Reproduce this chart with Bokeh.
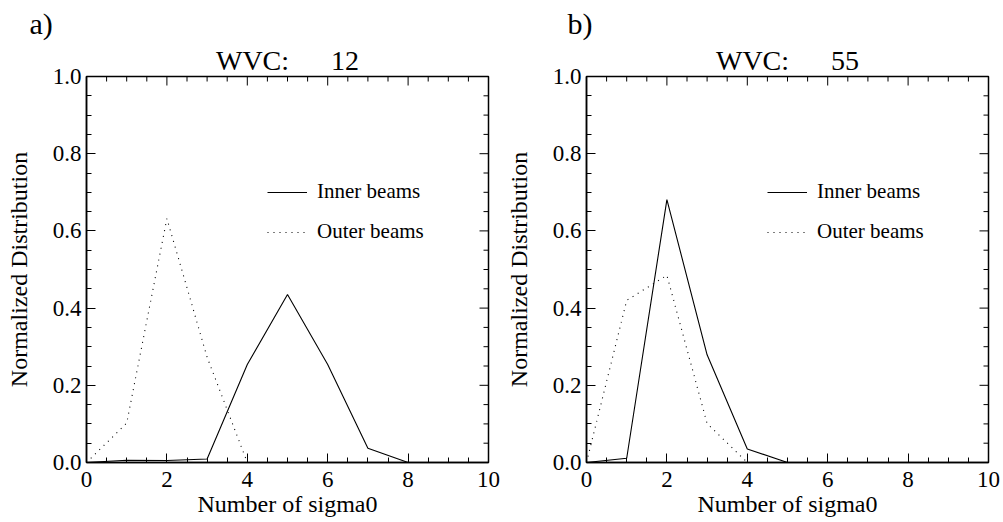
import math
from bokeh.plotting import figure
from bokeh.models import (FixedTicker, Range1d, Legend, LegendItem,
                          PrintfTickFormatter, Title)
from bokeh.layouts import row
from bokeh.embed import file_html
from bokeh.resources import INLINE

# ---- data ----
sigma0_count = [0, 1, 2, 3, 4, 5, 6, 7, 8, 9, 10]

inner_a = [0.0, 0.006, 0.005, 0.009, 0.254, 0.435, 0.254, 0.037, 0.0, 0.0, 0.0]
outer_a = [0.0, 0.102, 0.632, 0.273, 0.0, 0.0, 0.0, 0.0, 0.0, 0.0, 0.0]

inner_b = [0.0, 0.011, 0.681, 0.279, 0.035, 0.0, 0.0, 0.0, 0.0, 0.0, 0.0]
outer_b = [0.0, 0.420, 0.485, 0.101, 0.0, 0.0, 0.0, 0.0, 0.0, 0.0, 0.0]

panel_letters = ["a)", "b)"]
wvc_values = [12, 55]
series_names = ["Inner beams", "Outer beams"]

x_major = [0, 2, 4, 6, 8, 10]
x_minor = [0.5, 1, 1.5, 2.5, 3, 3.5, 4.5, 5, 5.5, 6.5, 7, 7.5, 8.5, 9, 9.5]
y_major = [0.0, 0.2, 0.4, 0.6, 0.8, 1.0]
y_minor = [0.05, 0.1, 0.15, 0.25, 0.3, 0.35, 0.45, 0.5, 0.55, 0.65, 0.7,
           0.75, 0.85, 0.9, 0.95]

FONT = "Liberation Serif"
GAP = " " + "\u00a0" * 5   # wide gap as in the reference title


def style_axis(ax):
    ax.axis_line_color = "black"
    ax.axis_line_width = 1.5
    ax.major_tick_line_color = "black"
    ax.minor_tick_line_color = "black"
    ax.major_tick_in = 9
    ax.major_tick_out = 0
    ax.minor_tick_in = 5
    ax.minor_tick_out = 0
    ax.major_label_text_font = FONT
    ax.major_label_text_color = "black"
    ax.major_label_text_font_size = "23px"
    ax.axis_label_text_font = FONT
    ax.axis_label_text_font_style = "normal"
    ax.axis_label_text_color = "black"
    ax.axis_label_text_font_size = "24px"


def make_panel(letter, wvc, inner, outer, width, left_b, right_b, letter_off):
    p = figure(width=width, height=522,
               x_range=Range1d(0, 10), y_range=Range1d(0, 1),
               output_backend="svg", toolbar_location=None, title=None,
               min_border_left=left_b, min_border_right=right_b,
               min_border_top=76, min_border_bottom=60,
               x_axis_label="Number of sigma0",
               y_axis_label="Normalized Distribution")
    p.background_fill_color = "white"
    p.border_fill_color = "white"
    p.outline_line_color = "black"
    p.outline_line_width = 1.5
    p.grid.visible = False

    p.xaxis.ticker = FixedTicker(ticks=x_major, minor_ticks=x_minor)
    p.yaxis.ticker = FixedTicker(ticks=y_major, minor_ticks=y_minor)
    p.xaxis.formatter = PrintfTickFormatter(format="%d")
    p.yaxis.formatter = PrintfTickFormatter(format="%.1f")
    for ax in p.xaxis:
        style_axis(ax)
        ax.major_label_standoff = 9
        ax.axis_label_standoff = 1
    for ax in p.yaxis:
        style_axis(ax)
        ax.major_label_standoff = 5
        ax.axis_label_standoff = 18

    # inward ticks along the top and right edges of the frame
    top_y = p.y_range.end
    right_x = p.x_range.end
    p.ray(x=x_major, y=[top_y] * len(x_major), length=9, length_units="screen",
          angle=-math.pi / 2, line_color="black", line_width=1)
    p.ray(x=x_minor, y=[top_y] * len(x_minor), length=5, length_units="screen",
          angle=-math.pi / 2, line_color="black", line_width=1)
    p.ray(x=[right_x] * len(y_major), y=y_major, length=9, length_units="screen",
          angle=math.pi, line_color="black", line_width=1)
    p.ray(x=[right_x] * len(y_minor), y=y_minor, length=5, length_units="screen",
          angle=math.pi, line_color="black", line_width=1)

    r_in = p.line(sigma0_count, inner, line_color="black", line_width=1.1)
    r_out = p.line(sigma0_count, outer, line_color="black", line_width=1.1,
                   line_dash="1 5")

    legend = Legend(items=[LegendItem(label=series_names[0], renderers=[r_in]),
                           LegendItem(label=series_names[1], renderers=[r_out])],
                    location=(181, 218), margin=0, padding=0,
                    glyph_width=40, glyph_height=20, label_standoff=10,
                    label_height=20, spacing=15,
                    border_line_alpha=0, background_fill_alpha=0,
                    label_text_font=FONT, label_text_font_size="21px",
                    label_text_color="black")
    p.add_layout(legend, "center")

    p.add_layout(Title(text="WVC:" + GAP + str(wvc), align="center",
                       text_font=FONT, text_font_size="28px",
                       text_font_style="normal", text_color="black",
                       standoff=1), "above")
    p.add_layout(Title(text=letter, align="left", offset=letter_off,
                       text_font=FONT, text_font_size="30px",
                       text_font_style="normal", text_color="black",
                       standoff=6), "above")
    return p


p1 = make_panel(panel_letters[0], wvc_values[0], inner_a, outer_a,
                width=500, left_b=86, right_b=12, letter_off=-57)
p2 = make_panel(panel_letters[1], wvc_values[1], inner_b, outer_b,
                width=503, left_b=86, right_b=15, letter_off=-19)

layout = row(p1, p2)
open("out.html", "w").write(file_html(layout, INLINE))
